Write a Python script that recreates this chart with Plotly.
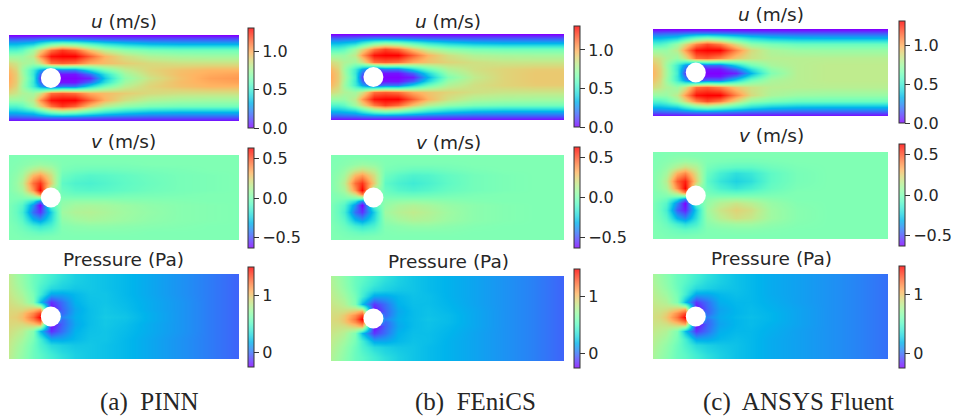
import math
import plotly.graph_objects as go

W, H = 954, 416

# Node positions as fractions of the channel
x_nodes = [0, .03, .057, .104, .135, .183, .23, .287, .352, .417, .504, .613, .743, .874, 1]
y_nodes_top = [0, .05, .1, .17, .24, .33, .41, .455, .5]

# Values (upper half of the channel, wall to centre line)
u_pinn = [
 [0]*15,
 [.16,.16,.17,.18,.20,.22,.22,.21,.19,.17,.16,.15,.15,.15,.15],
 [.34,.34,.36,.40,.5,.64,.7,.66,.56,.47,.4,.35,.33,.33,.33],
 [.54,.54,.58,.74,.9,1.12,1.22,1.15,.95,.8,.7,.64,.62,.62,.62],
 [.72,.72,.72,.82,1.05,1.28,1.31,1.31,1.15,.98,.86,.78,.75,.74,.74],
 [.88,.84,.78,.74,.85,1.12,1.15,1.12,1.0,.96,.92,.88,.86,.86,.86],
 [.97,.9,.74,.5,.3,.12,.2,.2,.42,.62,.8,.9,.95,.98,.98],
 [.99,.92,.76,.48,.18,0,.03,.03,.18,.45,.74,.88,.96,1.0,1.02],
 [1.0,.92,.78,.5,.1,0,0,0,.06,.38,.7,.85,.95,1.02,1.04],
]
u_fenics = [
 [0]*15,
 [.16,.16,.17,.18,.20,.22,.22,.21,.19,.17,.16,.15,.15,.15,.15],
 [.34,.34,.36,.40,.5,.64,.7,.66,.56,.47,.4,.35,.33,.33,.33],
 [.54,.54,.58,.74,.88,1.1,1.2,1.13,.95,.8,.7,.64,.62,.62,.62],
 [.72,.72,.72,.82,1.03,1.28,1.31,1.31,1.15,.98,.86,.78,.76,.75,.75],
 [.88,.84,.78,.74,.85,1.12,1.15,1.12,1.0,.94,.9,.86,.84,.84,.84],
 [.97,.9,.74,.5,.3,.12,.2,.2,.4,.6,.78,.86,.9,.92,.92],
 [.99,.92,.76,.48,.18,0,.03,.03,.16,.42,.72,.84,.9,.93,.93],
 [1.0,.92,.78,.5,.1,0,0,0,.05,.33,.66,.82,.9,.93,.93],
]
u_fluent = [
 [0]*15,
 [.16,.16,.17,.18,.20,.22,.22,.21,.19,.17,.16,.15,.15,.15,.15],
 [.34,.34,.36,.40,.5,.62,.68,.62,.52,.43,.37,.34,.33,.33,.33],
 [.54,.54,.58,.72,.88,1.08,1.18,1.1,.88,.7,.64,.6,.6,.6,.6],
 [.72,.72,.72,.82,1.03,1.28,1.31,1.31,1.08,.88,.77,.73,.72,.72,.72],
 [.88,.84,.78,.72,.85,1.12,1.15,1.08,.93,.85,.8,.8,.8,.8,.8],
 [.95,.88,.74,.5,.28,.1,.18,.18,.4,.62,.76,.8,.82,.82,.82],
 [.97,.9,.76,.48,.18,0,.03,.03,.18,.44,.7,.8,.82,.82,.82],
 [.98,.9,.76,.5,.1,0,0,0,.06,.33,.66,.8,.82,.82,.82],
]
v_pinn = [
 [0]*15,
 [0,0,.01,.02,.02,.01,0,0,0,0,0,0,0,0,0],
 [0,.01,.02,.05,.07,.05,0,-.01,-.01,-.01,-.01,0,0,0,0],
 [0,.02,.05,.14,.18,.12,-.01,-.03,-.04,-.04,-.03,-.02,-.01,0,0],
 [.01,.04,.09,.3,.36,.2,-.04,-.08,-.10,-.09,-.07,-.04,-.02,-.01,0],
 [.01,.06,.14,.45,.55,.25,-.08,-.12,-.13,-.11,-.08,-.05,-.02,-.01,0],
 [.01,.05,.10,.38,.63,.1,-.05,-.09,-.1,-.09,-.07,-.04,-.02,-.01,0],
 [0,.02,.05,.2,.42,.05,-.03,-.05,-.05,-.05,-.03,-.02,-.01,0,0],
 [0]*15,
]
v_fenics = [
 [0]*15,
 [0,0,.01,.02,.02,.01,0,0,0,0,0,0,0,0,0],
 [0,.01,.02,.05,.07,.05,0,-.01,-.01,-.01,-.01,0,0,0,0],
 [0,.02,.05,.14,.18,.12,-.01,-.03,-.05,-.05,-.03,-.01,0,0,0],
 [.01,.04,.09,.3,.36,.2,-.04,-.09,-.12,-.11,-.07,-.03,-.01,0,0],
 [.01,.06,.14,.45,.55,.25,-.08,-.13,-.16,-.13,-.08,-.03,-.01,0,0],
 [.01,.05,.10,.38,.63,.1,-.05,-.1,-.12,-.1,-.06,-.03,-.01,0,0],
 [0,.02,.05,.2,.42,.05,-.03,-.05,-.06,-.05,-.03,-.01,0,0,0],
 [0]*15,
]
v_fluent = [
 [0]*15,
 [0,0,.01,.02,.02,.01,0,0,0,0,0,0,0,0,0],
 [0,.01,.02,.05,.07,.05,0,-.01,-.02,-.02,-.01,0,0,0,0],
 [0,.02,.05,.14,.2,.13,-.02,-.06,-.08,-.08,-.04,-.01,0,0,0],
 [.01,.04,.09,.32,.4,.2,-.05,-.14,-.2,-.17,-.08,-.02,0,0,0],
 [.01,.06,.14,.48,.58,.25,-.08,-.18,-.24,-.2,-.08,-.02,0,0,0],
 [.01,.05,.10,.4,.63,.1,-.05,-.13,-.18,-.14,-.06,-.01,0,0,0],
 [0,.02,.05,.22,.44,.05,-.03,-.07,-.09,-.07,-.03,0,0,0,0],
 [0]*15,
]
p_pinn = [
 [.82,.74,.68,.56,.5,.42,.35,.28,.25,.23,.2,.15,.09,.03,-.03],
 [.83,.75,.69,.56,.5,.41,.34,.28,.25,.23,.2,.15,.09,.03,-.03],
 [.84,.76,.7,.56,.48,.38,.31,.27,.25,.23,.2,.15,.09,.03,-.03],
 [.85,.78,.72,.57,.45,.32,.28,.25,.25,.23,.2,.15,.09,.03,-.03],
 [.87,.81,.76,.6,.42,.15,.15,.2,.24,.24,.2,.15,.09,.03,-.03],
 [.9,.86,.82,.64,.22,-.15,.0,.18,.23,.24,.21,.16,.1,.03,-.03],
 [.93,.92,.92,1.0,1.1,-.25,-.03,.15,.22,.25,.22,.16,.1,.03,-.03],
 [.94,.95,1.0,1.18,1.35,.3,-.02,.16,.22,.25,.23,.17,.1,.03,-.03],
 [.95,.97,1.02,1.25,1.49,.5,.05,.17,.22,.26,.24,.17,.1,.03,-.03],
]
p_fenics = [
 [.78,.72,.66,.55,.5,.42,.35,.28,.24,.21,.18,.14,.09,.04,-.03],
 [.79,.73,.67,.55,.5,.41,.34,.28,.24,.21,.18,.14,.09,.04,-.03],
 [.8,.74,.68,.55,.48,.38,.31,.27,.24,.21,.18,.14,.09,.04,-.03],
 [.82,.76,.7,.56,.45,.32,.28,.25,.24,.21,.18,.14,.09,.04,-.03],
 [.84,.79,.74,.59,.42,.15,.15,.2,.23,.22,.18,.14,.09,.04,-.03],
 [.87,.84,.8,.62,.22,-.13,.0,.18,.22,.22,.19,.14,.09,.04,-.03],
 [.9,.89,.9,.98,1.08,-.25,-.03,.15,.21,.23,.2,.15,.09,.04,-.03],
 [.91,.92,.98,1.16,1.33,.3,-.02,.16,.21,.23,.21,.15,.09,.04,-.03],
 [.92,.94,1.0,1.23,1.49,.5,.05,.17,.21,.24,.21,.15,.09,.04,-.03],
]
p_fluent = [
 [.76,.7,.65,.55,.5,.42,.35,.28,.23,.2,.16,.13,.09,.05,.0],
 [.77,.71,.66,.55,.5,.41,.34,.28,.23,.2,.16,.13,.09,.05,.0],
 [.78,.72,.67,.55,.48,.38,.31,.27,.23,.2,.16,.13,.09,.05,.0],
 [.8,.74,.69,.56,.45,.32,.28,.25,.23,.2,.16,.13,.09,.05,.0],
 [.82,.77,.73,.59,.42,.15,.15,.2,.22,.2,.16,.13,.09,.05,.0],
 [.85,.82,.79,.62,.22,-.13,.0,.17,.2,.2,.17,.13,.09,.05,.0],
 [.88,.87,.89,.98,1.08,-.25,-.03,.14,.19,.21,.18,.14,.09,.05,.0],
 [.89,.9,.96,1.16,1.33,.3,-.02,.15,.19,.21,.19,.14,.09,.05,.0],
 [.9,.92,.99,1.23,1.49,.5,.05,.16,.2,.22,.19,.14,.09,.05,.0],
]

titles = ["<i>u</i> (m/s)", "<i>v</i> (m/s)", "Pressure (Pa)"]
captions = ["(a)  PINN", "(b)  FEniCS", "(c)  ANSYS Fluent"]
fields = [[u_pinn, v_pinn, p_pinn], [u_fenics, v_fenics, p_fenics], [u_fluent, v_fluent, p_fluent]]
mirror_sign = [1, -1, 1]
z_ranges = [(0, 1.31), (-.63, .63), (-.25, 1.49)]
tick_vals = [[0, .5, 1], [-.5, 0, .5], [0, 1]]
tick_text = [["0.0", "0.5", "1.0"], ["\u22120.5", "0.0", "0.5"], ["0", "1"]]
cylinder_x, cylinder_y = .182, .5

# Layout, in page pixels
panel_x = [(9, 239), (331, 564), (653, 888)]
panel_y = [[(35, 121), (155, 240), (274, 359)],
           [(34, 120), (155, 240), (276, 361)],
           [(29, 116), (152, 239), (274, 359)]]
cbar_x = [248, 574, 899]
cbar_y = [[(28, 128), (148, 248), (267, 367)],
          [(26, 127), (147, 248), (269, 368)],
          [(21, 123), (144, 246), (266, 368)]]
title_y = [[21, 141, 259], [21, 142, 261], [15, 136, 258]]
title_x = [124, 448, 771]
caption_x = [149, 475, 798]
caption_y = 402


def rainbow_scale(alpha):
    scale = []
    for i in range(17):
        t = i/16
        rgb = (min(abs(2*t - .5), 1), math.sin(math.pi*t), math.cos(math.pi*t/2))
        c = [round(255*(alpha*k + 1 - alpha)) for k in rgb]
        scale.append([t, f"rgb({c[0]},{c[1]},{c[2]})"])
    return scale


y_nodes = y_nodes_top + [round(1 - v, 3) for v in y_nodes_top[-2::-1]]

fig = go.Figure()
layout = dict(width=W, height=H, margin=dict(l=0, r=0, t=0, b=0, pad=0),
              paper_bgcolor="white", plot_bgcolor="white", showlegend=False,
              font=dict(family="DejaVu Sans", color="#262626"), autosize=False)
annotations = []
n = 0
for c in range(3):
    for r in range(3):
        n += 1
        sfx = "" if n == 1 else str(n)
        half = fields[c][r]
        z = half + [[mirror_sign[r]*v for v in row] for row in half[-2::-1]]
        y0, y1 = panel_y[c][r]
        cy0, cy1 = cbar_y[c][r]
        layout["xaxis" + sfx] = dict(domain=[panel_x[c][0]/W, panel_x[c][1]/W], range=[0, 1], visible=False)
        layout["yaxis" + sfx] = dict(domain=[1 - y1/H, 1 - y0/H], range=[1, 0], visible=False)
        # The paler copy only supplies the colour bar; the saturated one covers it.
        fig.add_trace(go.Heatmap(
            x=x_nodes, y=y_nodes, z=z, zsmooth="best", colorscale=rainbow_scale(.8),
            zmin=z_ranges[r][0], zmax=z_ranges[r][1], xaxis="x" + sfx, yaxis="y" + sfx,
            hoverinfo="skip",
            colorbar=dict(x=cbar_x[c]/W, xanchor="left", xref="paper", yref="paper",
                          y=1 - (cy0 + cy1)/2/H, yanchor="middle", len=(cy1 - cy0)/H, lenmode="fraction",
                          thickness=6, xpad=0, ypad=0, outlinewidth=1, outlinecolor="#333",
                          ticks="outside", ticklen=5, tickwidth=1, tickcolor="#333",
                          tickvals=tick_vals[r], ticktext=tick_text[r],
                          tickfont=dict(family="DejaVu Sans", size=16, color="#262626"))))
        fig.add_trace(go.Heatmap(
            x=x_nodes, y=y_nodes, z=z, zsmooth="best", colorscale=rainbow_scale(1),
            zmin=z_ranges[r][0], zmax=z_ranges[r][1], xaxis="x" + sfx, yaxis="y" + sfx,
            hoverinfo="skip", showscale=False))
        fig.add_trace(go.Scatter(x=[cylinder_x], y=[cylinder_y], mode="markers",
                                 marker=dict(size=20, color="white", line=dict(width=0)),
                                 xaxis="x" + sfx, yaxis="y" + sfx, hoverinfo="skip"))
        annotations.append(dict(text=titles[r], x=title_x[c]/W, y=1 - title_y[c][r]/H, xref="paper", yref="paper",
                                showarrow=False, xanchor="center", yanchor="middle",
                                font=dict(family="DejaVu Sans", size=18.5, color="#262626")))
    annotations.append(dict(text=captions[c], x=caption_x[c]/W, y=1 - caption_y/H, xref="paper", yref="paper",
                            showarrow=False, xanchor="center", yanchor="middle",
                            font=dict(family="Liberation Serif", size=25, color="#262626")))
fig.update_layout(annotations=annotations, **layout)
fig.write_html("out.html", post_script="document.body.style.margin='0';document.body.style.overflow='hidden';",
               config={"displayModeBar": False})
